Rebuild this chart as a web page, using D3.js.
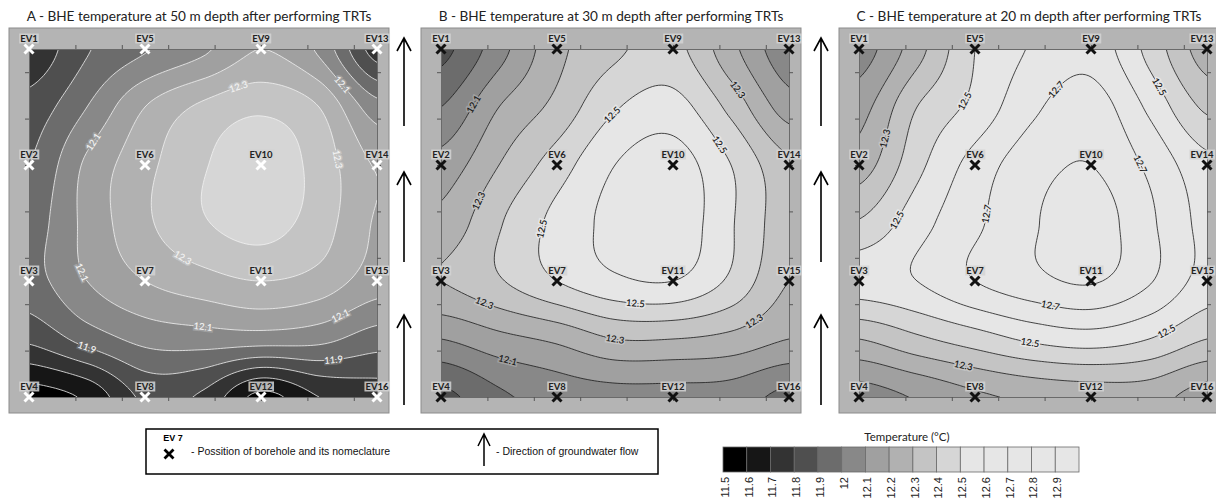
<!DOCTYPE html>
<html lang="en">
<head>
<meta charset="utf-8">
<title>BHE temperature after performing TRTs</title>
<script src="https://cdn.jsdelivr.net/npm/d3@7"></script>
<style>
  body { margin: 0; background: #fff; }
  svg { display: block; }
</style>
</head>
<body>
<script>
// temperature classes, used for the contour thresholds and the legend bar
var tempTicks = [11.5, 11.6, 11.7, 11.8, 11.9, 12, 12.1, 12.2, 12.3, 12.4, 12.5, 12.6, 12.7, 12.8, 12.9];
var bandColors = ["#000000", "#161616", "#333333", "#4f4f4f", "#6c6c6c", "#888888", "#a0a0a0",
                  "#b1b1b1", "#c4c4c4", "#d6d6d6", "#e6e6e6", "#e6e6e6", "#e6e6e6", "#e6e6e6", "#e6e6e6"];

var panelTitles = [
  "A - BHE temperature at 50 m depth after performing TRTs",
  "B - BHE temperature at 30 m depth after performing TRTs",
  "C - BHE temperature at 20 m depth after performing TRTs"
];

// boreholes, position in metres (x from the left, y from the bottom)
var bhX = [0, 2.5, 5, 7.5];
var bhY = [7.5, 5, 2.5, 0];
var bhNames = [
  ["EV1", "EV2", "EV3", "EV4"],
  ["EV5", "EV6", "EV7", "EV8"],
  ["EV9", "EV10", "EV11", "EV12"],
  ["EV13", "EV14", "EV15", "EV16"]
];

// temperature (°C) every 1.25 m, rows from top to bottom
var tempA = [
  [11.72, 11.89, 11.99, 12.08, 12.20, 12.08, 11.75],
  [11.84, 12.00, 12.20, 12.32, 12.38, 12.30, 12.04],
  [11.90, 12.12, 12.27, 12.39, 12.47, 12.36, 12.19],
  [11.95, 12.13, 12.28, 12.39, 12.44, 12.35, 12.19],
  [11.96, 12.10, 12.20, 12.26, 12.30, 12.26, 12.15],
  [11.82, 11.94, 12.03, 12.05, 12.05, 12.03, 11.95],
  [11.55, 11.62, 11.82, 11.78, 11.57, 11.70, 11.75]
];
var tempB = [
  [11.87, 12.06, 12.27, 12.38, 12.43, 12.23, 12.03],
  [12.00, 12.20, 12.33, 12.49, 12.54, 12.37, 12.15],
  [12.14, 12.30, 12.45, 12.60, 12.65, 12.50, 12.32],
  [12.23, 12.39, 12.53, 12.63, 12.67, 12.51, 12.34],
  [12.30, 12.39, 12.50, 12.58, 12.60, 12.48, 12.30],
  [12.10, 12.17, 12.22, 12.30, 12.30, 12.27, 12.20],
  [11.87, 11.98, 12.04, 12.06, 12.06, 12.05, 11.97]
];
var tempC = [
  [12.05, 12.26, 12.50, 12.61, 12.66, 12.47, 12.25],
  [12.16, 12.40, 12.53, 12.68, 12.75, 12.58, 12.38],
  [12.25, 12.47, 12.64, 12.76, 12.80, 12.68, 12.53],
  [12.41, 12.56, 12.68, 12.79, 12.85, 12.72, 12.57],
  [12.55, 12.60, 12.70, 12.77, 12.81, 12.71, 12.56],
  [12.30, 12.38, 12.45, 12.52, 12.55, 12.50, 12.40],
  [12.05, 12.11, 12.18, 12.22, 12.24, 12.24, 12.15]
];

// contour labels: [value, x m, y m]
var labelsA = [
  [12.3, 4.48, 6.83], [12.3, 6.68, 5.15], [12.3, 3.40, 3.20],
  [12.1, 6.68, 6.65], [12.1, 1.25, 5.60], [12.1, 1.13, 2.68], [12.1, 3.75, 1.73], [12.1, 6.68, 1.80],
  [11.9, 1.13, 0.75], [11.9, 6.55, 0.73]
];
var labelsB = [
  [12.1, 0.80, 6.25], [12.3, 0.78, 4.25], [12.5, 3.65, 6.15], [12.5, 5.95, 5.40],
  [12.5, 2.23, 3.60], [12.5, 4.20, 2.10], [12.3, 0.93, 2.03], [12.3, 3.75, 1.15],
  [12.1, 1.43, 0.73], [12.3, 6.38, 6.63], [12.3, 6.63, 1.85]
];
var labelsC = [
  [12.5, 2.28, 6.38], [12.3, 0.75, 5.55], [12.5, 0.80, 3.83], [12.7, 4.20, 6.63],
  [12.5, 6.43, 6.63], [12.7, 6.03, 5.00], [12.7, 2.75, 3.95], [12.7, 4.15, 1.98],
  [12.5, 3.68, 1.15], [12.3, 2.25, 0.73], [12.5, 6.60, 1.45]
];

var panels = [
  { title: panelTitles[0], grid: tempA, labels: labelsA, x0: 29, lines: "#f2f2f2", mark: "#fff" },
  { title: panelTitles[1], grid: tempB, labels: labelsB, x0: 441, lines: "#1a1a1a", mark: "#111" },
  { title: panelTitles[2], grid: tempC, labels: labelsC, x0: 859, lines: "#1a1a1a", mark: "#111" }
];

var W = 1216, H = 502;
var plotY0 = 49, plotSize = 348, span = 7.5, fine = 121;
var sans = "'Liberation Sans', Arial, sans-serif";

var svg = d3.select("body").append("svg")
  .attr("width", W).attr("height", H)
  .attr("font-family", "Lato, 'Open Sans', sans-serif");
svg.append("rect").attr("width", W).attr("height", H).attr("fill", "#fff");

// smooth the coarse grid for drawing (Catmull-Rom)
function smoothGrid(g, m) {
  var n = g.length, out = new Array(m * m);
  function at(r, c) {
    r = Math.max(0, Math.min(n - 1, r)); c = Math.max(0, Math.min(n - 1, c));
    return g[r][c];
  }
  function cr(p0, p1, p2, p3, t) {
    return 0.5 * (2 * p1 + (-p0 + p2) * t + (2 * p0 - 5 * p1 + 4 * p2 - p3) * t * t +
                  (-p0 + 3 * p1 - 3 * p2 + p3) * t * t * t);
  }
  for (var j = 0; j < m; j++) {
    var v = j * (n - 1) / (m - 1), r = Math.min(n - 2, Math.floor(v)), tv = v - r;
    for (var i = 0; i < m; i++) {
      var u = i * (n - 1) / (m - 1), c = Math.min(n - 2, Math.floor(u)), tu = u - c;
      var rows = [-1, 0, 1, 2].map(function(dr) {
        return cr(at(r + dr, c - 1), at(r + dr, c), at(r + dr, c + 1), at(r + dr, c + 2), tu);
      });
      out[j * m + i] = cr(rows[0], rows[1], rows[2], rows[3], tv);
    }
  }
  return out;
}

function toM(c) { return (c - 0.5) * span / (fine - 1); }

panels.forEach(function(p, pi) {
  var g = svg.append("g");
  var sx = d3.scaleLinear().domain([0, span]).range([p.x0, p.x0 + plotSize]);
  var sy = d3.scaleLinear().domain([0, span]).range([plotY0 + plotSize, plotY0]);

  g.append("rect")
    .attr("x", p.x0 - 20).attr("y", plotY0 - 21)
    .attr("width", 380).attr("height", 385)
    .attr("fill", "#b4b4b4").attr("stroke", "#8c8c8c");

  g.append("text")
    .attr("x", p.x0 + 170).attr("y", 21)
    .attr("text-anchor", "middle").attr("font-size", 13.6).attr("fill", "#222")
    .text(p.title);

  g.append("clipPath").attr("id", "clip" + pi)
    .append("rect").attr("x", p.x0).attr("y", plotY0).attr("width", plotSize).attr("height", plotSize);

  var values = smoothGrid(p.grid, fine);
  var contours = d3.contours().size([fine, fine]).thresholds(tempTicks)(values);
  var proj = d3.geoTransform({
    point: function(x, y) { this.stream.point(sx(toM(x)), sy(span - toM(y))); }
  });
  var path = d3.geoPath(proj);

  var maps = g.append("g").attr("clip-path", "url(#clip" + pi + ")");
  maps.append("rect").attr("x", p.x0).attr("y", plotY0).attr("width", plotSize).attr("height", plotSize)
    .attr("fill", bandColors[0]);
  maps.selectAll("path.band").data(contours).enter().append("path")
    .attr("class", "band")
    .attr("d", path)
    .attr("fill", function(d, i) { return bandColors[i]; })
    .attr("fill-rule", "evenodd");
  maps.selectAll("path.iso").data(contours.slice(1)).enter().append("path")
    .attr("class", "iso")
    .attr("d", path)
    .attr("fill", "none")
    .attr("stroke", p.lines).attr("stroke-width", 0.8);

  // labels on the isolines
  p.labels.forEach(function(l) {
    var idx = tempTicks.findIndex(function(t) { return Math.abs(t - l[0]) < 1e-6; });
    var c = contours[idx];
    var tx = sx(l[1]), ty = sy(l[2]);
    var best = null;
    c.coordinates.forEach(function(poly) {
      poly.forEach(function(ring) {
        var pts = ring.map(function(q) { return [sx(toM(q[0])), sy(span - toM(q[1]))]; });
        pts.forEach(function(q, k) {
          if (q[0] < p.x0 + 3 || q[0] > p.x0 + plotSize - 3 || q[1] < plotY0 + 3 || q[1] > plotY0 + plotSize - 3) return;
          var d = (q[0] - tx) * (q[0] - tx) + (q[1] - ty) * (q[1] - ty);
          if (!best || d < best.d) best = { d: d, pts: pts, k: k };
        });
      });
    });
    if (!best) return;
    var n = best.pts.length - 1;
    var a = best.pts[(best.k - 3 + n) % n], b = best.pts[(best.k + 3) % n];
    var ang = Math.atan2(b[1] - a[1], b[0] - a[0]) * 180 / Math.PI;
    if (ang > 90) ang -= 180;
    if (ang < -90) ang += 180;
    var q = best.pts[best.k];
    maps.append("text")
      .attr("transform", "translate(" + q[0] + "," + q[1] + ") rotate(" + ang + ")")
      .attr("text-anchor", "middle").attr("dy", "0.35em")
      .attr("font-size", 9.5).attr("font-weight", 600)
      .attr("fill", p.lines)
      .attr("stroke", bandColors[idx]).attr("stroke-width", 3).attr("paint-order", "stroke")
      .text(d3.format(".1f")(l[0]));
  });

  // spatial ticks every metre
  var ticks = d3.range(1, 8);
  function styleAxis(sel) {
    sel.select(".domain").attr("stroke", "#6a6a6a");
    sel.selectAll(".tick line").attr("stroke", "#555");
  }
  g.append("g").attr("transform", "translate(0," + plotY0 + ")")
    .call(d3.axisTop(sx).tickValues(ticks).tickSize(4).tickSizeOuter(0).tickFormat("")).call(styleAxis);
  g.append("g").attr("transform", "translate(0," + (plotY0 + plotSize) + ")")
    .call(d3.axisBottom(sx).tickValues(ticks).tickSize(4).tickSizeOuter(0).tickFormat("")).call(styleAxis);
  g.append("g").attr("transform", "translate(" + p.x0 + ",0)")
    .call(d3.axisLeft(sy).tickValues(ticks).tickSize(4).tickSizeOuter(0).tickFormat("")).call(styleAxis);
  g.append("g").attr("transform", "translate(" + (p.x0 + plotSize) + ",0)")
    .call(d3.axisRight(sy).tickValues(ticks).tickSize(4).tickSizeOuter(0).tickFormat("")).call(styleAxis);

  // boreholes
  var holes = [];
  bhX.forEach(function(x, ci) {
    bhY.forEach(function(y, ri) { holes.push({ x: x, y: y, name: bhNames[ci][ri] }); });
  });
  var hg = g.selectAll("g.hole").data(holes).enter().append("g")
    .attr("class", "hole")
    .attr("transform", function(d) { return "translate(" + sx(d.x) + "," + sy(d.y) + ")"; });
  hg.append("path")
    .attr("d", "M-4.5,-4.5L4.5,4.5M-4.5,4.5L4.5,-4.5")
    .attr("stroke", p.mark).attr("stroke-width", 3);
  hg.each(function(d) {
    var h = d3.select(this);
    var t = h.append("text")
      .attr("y", -7).attr("text-anchor", "middle")
      .attr("font-size", 9.5).attr("font-weight", 700).attr("fill", "#222")
      .text(d.name);
    var bb = t.node().getBBox();
    // keep the right-most labels inside the page
    var over = sx(d.x) + bb.x + bb.width + 1 - (W - 1);
    if (over > 0) { t.attr("x", -over); bb = t.node().getBBox(); }
    h.insert("rect", "text")
      .attr("x", bb.x - 1).attr("y", bb.y + 0.5)
      .attr("width", bb.width + 2).attr("height", bb.height - 1)
      .attr("fill", "#d4d4d4").attr("opacity", 0.85);
  });
});

// groundwater flow arrows between the maps
var arrowX = [404, 821];
var arrowSpans = [[38, 126], [172, 262], [315, 405]];
arrowX.forEach(function(x) {
  arrowSpans.forEach(function(s) {
    svg.append("path")
      .attr("d", "M" + x + "," + s[1] + "V" + s[0] + "M" + (x - 7) + "," + (s[0] + 13) + "L" + x + "," + s[0] + "L" + (x + 7) + "," + (s[0] + 13))
      .attr("fill", "none").attr("stroke", "#000").attr("stroke-width", 1.6);
  });
});

// legend box
var lg = svg.append("g");
lg.append("rect").attr("x", 146).attr("y", 429).attr("width", 512).attr("height", 45)
  .attr("fill", "#fff").attr("stroke", "#000").attr("stroke-width", 1.5);
lg.append("text").attr("x", 173).attr("y", 441).attr("text-anchor", "middle")
  .attr("font-family", sans).attr("font-size", 9).attr("font-weight", 700).attr("fill", "#000")
  .text("EV 7");
lg.append("path").attr("transform", "translate(169,454)")
  .attr("d", "M-4.5,-4.5L4.5,4.5M-4.5,4.5L4.5,-4.5").attr("stroke", "#000").attr("stroke-width", 2.8);
lg.append("text").attr("x", 191).attr("y", 455)
  .attr("font-family", sans).attr("font-size", 10.5).attr("fill", "#111")
  .text("- Possition of borehole and its nomeclature");
lg.append("path")
  .attr("d", "M484,466V434M478,446L484,434L490,446")
  .attr("fill", "none").attr("stroke", "#000").attr("stroke-width", 1.5);
lg.append("text").attr("x", 496).attr("y", 455)
  .attr("font-family", sans).attr("font-size", 10.5).attr("fill", "#111")
  .text("- Direction of groundwater flow");

// temperature colour bar
var sBar = d3.scaleBand().domain(tempTicks).range([723, 1079]);
var cb = svg.append("g");
cb.append("text").attr("x", 907).attr("y", 441).attr("text-anchor", "middle")
  .attr("font-size", 11.5).attr("fill", "#222").text("Temperature (°C)");
cb.selectAll("rect").data(tempTicks).enter().append("rect")
  .attr("x", function(d) { return sBar(d); }).attr("y", 447)
  .attr("width", sBar.bandwidth()).attr("height", 25)
  .attr("fill", function(d, i) { return bandColors[i]; })
  .attr("stroke", "#6a6a6a").attr("stroke-width", 0.8);
cb.selectAll("text.tick").data(tempTicks).enter().append("text")
  .attr("class", "tick")
  .attr("transform", function(d) { return "translate(" + (sBar(d) + 2) + ",477) rotate(-90)"; })
  .attr("dy", "0.35em").attr("text-anchor", "end")
  .attr("font-family", sans).attr("font-size", 11).attr("fill", "#222")
  .text(function(d) { return String(d); });
</script>
</body>
</html>
